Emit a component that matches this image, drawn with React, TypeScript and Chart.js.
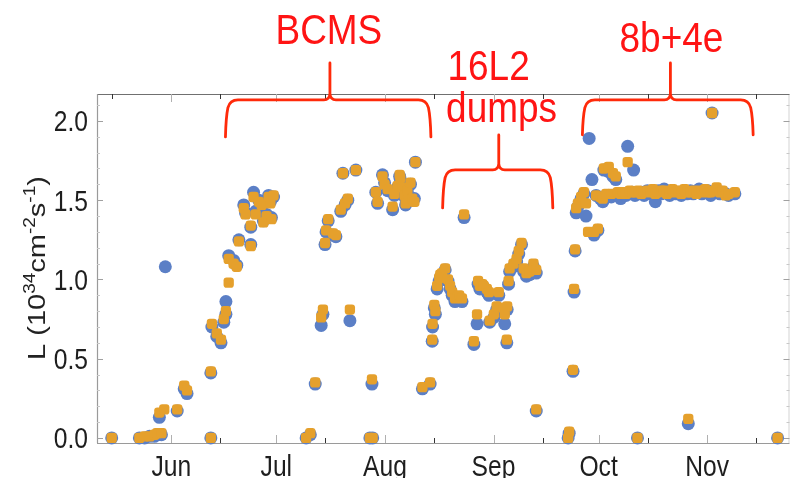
import React, { useEffect, useRef } from "react";
import { Chart, registerables } from "chart.js";

Chart.register(...registerables);

// Fill day (day of year) and peak luminosity, two series (blue, orange)
const fillDays = [
  135.0, 142.9, 144.4, 145.8, 147.2, 148.0, 148.6, 149.2, 150.0, 150.3, 153.7, 155.7, 156.5,
  163.3, 163.3, 163.6, 165.0, 166.2, 167.0, 167.6, 167.6, 168.4, 168.4, 169.8, 170.7, 171.3,
  174.7, 174.7, 172.7, 173.2, 175.5, 176.1, 177.0, 177.8, 178.3, 179.2, 179.8, 180.3, 180.6, 181.2,
  190.5, 191.7, 193.1, 194.8, 195.3, 195.9, 196.2, 196.8, 198.2, 199.0, 200.4, 201.0, 201.6, 202.4,
  203.0, 204.7, 208.7, 209.5, 209.3,
  210.4, 210.9, 212.3, 212.9, 213.8, 215.2, 215.7, 216.6, 217.2, 217.4, 218.0, 218.6, 218.9, 219.4,
  220.3, 220.8, 221.4, 221.7, 223.7, 225.9, 226.5, 226.6, 227.1, 227.4, 227.9, 228.5, 228.8, 229.3, 230.2,
  231.0, 231.6, 232.2, 233.0, 233.6, 234.2, 235.0, 235.6, 238.4, 239.3, 239.6, 240.1, 240.8, 241.2,
  242.1, 242.7, 242.9, 244.1, 244.9, 245.5, 246.9, 247.2, 247.8, 247.9, 248.3, 248.6, 249.7, 250.6,
  251.2, 252.0, 252.6, 253.4, 254.3, 255.4, 256.2, 256.2,
  265.3, 265.6, 266.7, 267.0, 267.3, 267.6, 268.1, 269.0, 269.8, 270.4, 271.0, 271.3, 272.1, 272.7,
  273.3, 273.8, 274.5, 275.2, 275.5, 276.2, 276.9, 277.6, 278.1, 278.9, 279.5, 280.3, 281.0, 281.8,
  282.3, 282.9, 283.6, 284.0, 284.4, 285.1, 285.3, 286.2, 287.0, 287.9, 288.8, 289.5, 290.2, 291.0,
  291.9, 292.7, 293.5, 294.3, 295.1, 296.0, 296.8, 297.6, 298.5, 299.3, 299.6, 300.2, 301.0, 301.9,
  302.7, 303.5, 304.4, 305.2, 306.0, 306.4, 306.9, 307.7, 308.6, 309.4, 310.3, 311.1, 312.9, 325.1,
];

const lumiBlue = [
  0.0, 0.0, 0.0, 0.01, 0.01, 0.02, 0.13, 0.02, null, 1.08, 0.17, 0.31, 0.28,
  0.41, 0.0, 0.7, 0.64, 0.6, 0.73, 0.78, 0.86, null, 1.15, 1.12, 1.09, 1.25,
  1.22, 1.33, 1.47, 1.42, 1.55, 1.43, 1.5, 1.46, 1.37, 1.41, 1.53, 1.49, 1.39, 1.52,
  0.0, 0.02, 0.34, 0.71, 0.78, 1.22, 1.3, 1.37, 1.28, 1.27, 1.43, 1.67, 1.47, 1.5,
  0.74, 1.69, 0.0, 0.0, 0.34,
  1.55, 1.48, 1.66, 1.61, 1.56, 1.44, 1.53, 1.58, 1.65, 1.63, 1.57, 1.52, 1.47, 1.55,
  1.6, 1.5, 1.51, 1.74, 0.31, 0.34, 0.61, 0.7, 0.82, 0.78, 0.94, 0.99, 1.01, 1.02, 1.06,
  0.99, 0.94, 0.9, 0.86, 0.88, 0.88, 0.86, 1.39, 0.59, 0.72, 0.97, 0.94, 0.96, 0.95,
  0.92, 0.9, 0.73, 0.76, 0.81, 0.9, 0.8, 0.72, 0.6, 0.81, 0.97, 1.05, 1.08, 1.11,
  1.16, 1.22, 1.05, 1.02, 1.03, 1.08, 1.04, 0.17,
  0.0, 0.03, 0.42, 0.92, 1.18, 1.42, 1.46, 1.51, 1.54, 1.4, null, 1.89, 1.63, 1.28,
  1.53, 1.31, 1.51, 1.49, 1.69, 1.53, 1.68, 1.52, 1.65, 1.63, 1.53, 1.51, 1.54, 1.53,
  1.84, 1.54, 1.55, 1.69, 1.53, 0.0, 1.54, 1.55, 1.53, 1.56, 1.54, 1.55, 1.49, 1.56,
  1.54, 1.57, 1.55, 1.53, 1.56, 1.54, 1.55, 1.53, 1.55, 1.54, 0.09, 1.56, 1.54, 1.55,
  1.57, 1.54, 1.55, 1.56, 1.53, 2.05, 1.55, 1.56, 1.54, 1.55, 1.54, 1.53, 1.54, 0.0,
];

const lumiOrange = [
  0.0, 0.0, 0.01, 0.01, 0.02, 0.03, 0.16, 0.03, 0.18, null, 0.18, 0.33, 0.3,
  0.42, 0.0, 0.72, 0.66, 0.62, 0.75, 0.8, null, 0.98, 1.13, 1.1, 1.08, 1.24,
  1.21, 1.34, 1.45, 1.41, 1.52, 1.41, 1.49, 1.47, 1.36, 1.4, 1.52, 1.48, 1.38, 1.53,
  0.0, 0.03, 0.35, 0.76, 0.81, 1.23, 1.31, 1.38, 1.29, 1.28, 1.44, 1.67, 1.48, 1.51,
  0.81, 1.69, 0.0, 0.0, 0.37,
  1.55, 1.49, 1.65, 1.6, 1.57, 1.46, 1.54, 1.59, 1.66, 1.64, 1.58, 1.53, 1.48, 1.56,
  1.61, 1.51, 1.49, 1.74, 0.32, 0.35, 0.62, 0.72, 0.84, 0.8, 0.96, 1.01, 1.03, 1.04, 1.07,
  1.0, 0.96, 0.92, 0.88, 0.89, 0.9, 0.88, 1.41, 0.61, 0.78, 0.99, 0.96, 0.97, 0.96,
  0.94, 0.92, 0.74, 0.78, 0.83, 0.92, 0.82, 0.78, 0.62, 0.83, 0.99, 1.07, 1.1, 1.13,
  1.18, 1.23, 1.07, 1.04, 1.05, 1.1, 1.06, 0.18,
  0.0, 0.04, 0.43, 0.94, 1.19, 1.45, 1.48, 1.52, 1.55, 1.48, 1.3, null, null, 1.3,
  1.53, 1.32, 1.52, 1.51, 1.7, 1.54, 1.71, 1.54, 1.67, 1.65, 1.55, 1.54, 1.55, 1.54,
  1.74, 1.56, 1.55, null, 1.55, 0.0, 1.56, 1.54, 1.55, 1.56, 1.55, 1.57, 1.54, 1.55,
  1.56, 1.56, 1.54, 1.55, 1.57, 1.55, 1.56, 1.54, 1.57, 1.55, 0.12, 1.55, 1.56, 1.54,
  1.56, 1.55, 1.57, 1.55, 1.55, 2.05, 1.56, 1.58, 1.55, 1.56, 1.53, 1.54, 1.55, 0.0,
];

// Axis ticks
const monthStartDays = [152, 182, 213, 244, 274, 305];
const monthLabels = ["Jun", "Jul", "Aug", "Sep", "Oct", "Nov"];
const midMonthDays = [135, 166, 196, 227, 258, 288, 319];
const yMajorTicks = [0, 0.5, 1.0, 1.5, 2.0];
const yTickLabels = ["0.0", "0.5", "1.0", "1.5", "2.0"];
const yMinorTicks = [0.1, 0.2, 0.3, 0.4, 0.6, 0.7, 0.8, 0.9, 1.1, 1.2, 1.3, 1.4, 1.6, 1.7, 1.8, 1.9, 2.1];

// Annotation braces (data units)
const braceFrom = [167.9, 229.9, 269.8];
const braceTo = [225.7, 260.5, 317.7];
const braceTip = [197.3, 245.5, 294.5];
const braceLevel = [2.133, 1.691, 2.133];
const braceLegEnd = [1.899, 1.451, 1.912];
const bracePeak = [2.366, 1.912, 2.366];

// Annotation texts (data units, baseline)
const noteTexts = ["BCMS", "16L2", "dumps", "8b+4e"];
const noteDays = [197.0, 242.6, 246.3, 294.8];
const noteLumi = [2.486, 2.26, 1.995, 2.435];

const SANS = '"Liberation Sans", Arial, Helvetica, sans-serif';
const SQUEEZE = 0.85;
const TICK_FONT = `29px ${SANS}`;

function squeezedText(ctx: CanvasRenderingContext2D, text: string, x: number, y: number, k: number) {
  ctx.save();
  ctx.translate(x, y);
  ctx.scale(k, 1);
  ctx.fillText(text, 0, 0);
  ctx.restore();
}

const decorPlugin = {
  id: "decor",
  beforeDatasetsDraw(chart: any) {
    const { ctx, chartArea } = chart;
    const xs = chart.scales.x;
    const ys = chart.scales.y;
    const { left, right, top, bottom } = chartArea;
    ctx.save();
    // frame
    ctx.lineWidth = 1.2;
    ctx.strokeStyle = "#dadada";
    ctx.beginPath();
    ctx.moveTo(right - 0.5, top);
    ctx.lineTo(right - 0.5, bottom);
    ctx.stroke();
    ctx.strokeStyle = "#707070";
    ctx.beginPath();
    ctx.moveTo(left, top + 0.5);
    ctx.lineTo(right, top + 0.5);
    ctx.stroke();
    ctx.strokeStyle = "#9a9a9a";
    ctx.beginPath();
    ctx.moveTo(left + 0.5, top);
    ctx.lineTo(left + 0.5, bottom);
    ctx.moveTo(left, bottom + 0.5);
    ctx.lineTo(right, bottom + 0.5);
    ctx.stroke();
    // x ticks
    ctx.lineWidth = 1;
    monthStartDays.forEach((d) => {
      const px = Math.round(xs.getPixelForValue(d)) + 0.5;
      ctx.strokeStyle = "#b0b0b0";
      ctx.beginPath();
      ctx.moveTo(px, bottom);
      ctx.lineTo(px, bottom - 8);
      ctx.moveTo(px, top);
      ctx.lineTo(px, top + 8);
      ctx.stroke();
    });
    midMonthDays.forEach((d) => {
      const px = Math.round(xs.getPixelForValue(d)) + 0.5;
      if (px < left || px > right) return;
      ctx.strokeStyle = "#333333";
      ctx.beginPath();
      ctx.moveTo(px, bottom);
      ctx.lineTo(px, bottom - 5);
      ctx.moveTo(px, top);
      ctx.lineTo(px, top + 5);
      ctx.stroke();
    });
    // y ticks
    yMajorTicks.forEach((v) => {
      const py = Math.round(ys.getPixelForValue(v)) + 0.5;
      ctx.strokeStyle = "#a0a0a0";
      ctx.beginPath();
      ctx.moveTo(left, py);
      ctx.lineTo(left + 6, py);
      ctx.moveTo(right, py);
      ctx.lineTo(right - 6, py);
      ctx.stroke();
    });
    yMinorTicks.forEach((v) => {
      const py = Math.round(ys.getPixelForValue(v)) + 0.5;
      ctx.strokeStyle = "#c8c8c8";
      ctx.beginPath();
      ctx.moveTo(left, py);
      ctx.lineTo(left + 3, py);
      ctx.moveTo(right, py);
      ctx.lineTo(right - 3, py);
      ctx.stroke();
    });
    // tick labels
    ctx.fillStyle = "#1e1e1e";
    ctx.font = TICK_FONT;
    ctx.textAlign = "center";
    ctx.textBaseline = "alphabetic";
    monthStartDays.forEach((d, i) => {
      squeezedText(ctx, monthLabels[i], xs.getPixelForValue(d), bottom + 33, SQUEEZE);
    });
    ctx.textAlign = "right";
    yMajorTicks.forEach((v, i) => {
      squeezedText(ctx, yTickLabels[i], left - 9, ys.getPixelForValue(v) + 10.5, SQUEEZE);
    });
    ctx.restore();
  },
  afterDraw(chart: any) {
    const { ctx } = chart;
    const xs = chart.scales.x;
    const ys = chart.scales.y;
    ctx.save();
    // braces
    ctx.strokeStyle = "#ff2a0a";
    ctx.lineWidth = 2.8;
    ctx.lineCap = "round";
    ctx.lineJoin = "round";
    braceFrom.forEach((_, i) => {
      const L = xs.getPixelForValue(braceFrom[i]);
      const R = xs.getPixelForValue(braceTo[i]);
      const T = xs.getPixelForValue(braceTip[i]);
      const H = ys.getPixelForValue(braceLevel[i]);
      const B = ys.getPixelForValue(braceLegEnd[i]);
      const P = ys.getPixelForValue(bracePeak[i]);
      const r = 11;
      const r2 = 6;
      ctx.beginPath();
      ctx.moveTo(L - 1.5, B);
      ctx.quadraticCurveTo(L - 1, H + r + 6, L + 1, H + r * 0.7);
      ctx.quadraticCurveTo(L + 3, H, L + r, H);
      ctx.lineTo(T - r2, H);
      ctx.quadraticCurveTo(T - 0.5, H, T, H - r2);
      ctx.lineTo(T, P);
      ctx.moveTo(T, H - r2);
      ctx.quadraticCurveTo(T + 0.5, H, T + r2, H);
      ctx.lineTo(R - r, H);
      ctx.quadraticCurveTo(R - 3, H, R - 1, H + r * 0.7);
      ctx.quadraticCurveTo(R + 1, H + r + 6, R + 1.5, B);
      ctx.stroke();
    });
    // notes
    ctx.fillStyle = "#ff1414";
    ctx.font = `42px ${SANS}`;
    ctx.textAlign = "center";
    ctx.textBaseline = "alphabetic";
    noteTexts.forEach((t, i) => {
      squeezedText(ctx, t, xs.getPixelForValue(noteDays[i]), ys.getPixelForValue(noteLumi[i]), 0.88);
    });
    // y-axis title with superscripts
    const parts: [string, boolean][] = [
      ["L (10", false],
      ["34", true],
      ["cm", false],
      ["-2", true],
      ["s", false],
      ["-1", true],
      [")", false],
    ];
    const bigFont = `29px ${SANS}`;
    const smallFont = `19px ${SANS}`;
    let total = 0;
    parts.forEach(([t, sup]) => {
      ctx.font = sup ? smallFont : bigFont;
      total += ctx.measureText(t).width;
    });
    ctx.translate(45, 268);
    ctx.rotate(-Math.PI / 2);
    ctx.scale(1, SQUEEZE);
    ctx.fillStyle = "#222222";
    ctx.textAlign = "left";
    let x = -total / 2;
    parts.forEach(([t, sup]) => {
      ctx.font = sup ? smallFont : bigFont;
      ctx.fillText(t, x, sup ? -12 : 0);
      x += ctx.measureText(t).width;
    });
    ctx.restore();
  },
};

export default function App() {
  const canvasRef = useRef<HTMLCanvasElement | null>(null);

  useEffect(() => {
    const canvas = canvasRef.current;
    if (!canvas) return;
    const bluePts = fillDays
      .map((d, i) => ({ x: d, y: lumiBlue[i] }))
      .filter((p) => p.y !== null);
    const orangePts = fillDays
      .map((d, i) => ({ x: d, y: lumiOrange[i] }))
      .filter((p) => p.y !== null);

    const chart = new Chart(canvas, {
      type: "scatter",
      data: {
        datasets: [
          {
            label: "orange",
            data: orangePts as any,
            backgroundColor: "#e5a02c",
            borderWidth: 0,
            pointStyle: "rectRounded",
            pointRadius: 6,
            order: 0,
            clip: false as any,
          },
          {
            label: "blue",
            data: bluePts as any,
            backgroundColor: "#5b7fc6",
            borderWidth: 0,
            pointStyle: "circle",
            pointRadius: 6.5,
            order: 1,
            clip: false as any,
          },
        ],
      },
      options: {
        animation: false,
        responsive: false,
        devicePixelRatio: 1,
        layout: { padding: { top: 94, right: 1, left: 0, bottom: 0 } },
        plugins: { legend: { display: false }, tooltip: { enabled: false } },
        scales: {
          x: {
            type: "linear",
            min: 130.8,
            max: 328.5,
            grid: { display: false },
            border: { display: false },
            afterFit: (s: any) => {
              s.height = 35;
            },
            afterBuildTicks: (s: any) => {
              s.ticks = monthStartDays.map((v) => ({ value: v }));
            },
            ticks: { display: false },
          },
          y: {
            type: "linear",
            min: -0.032,
            max: 2.17,
            grid: { display: false },
            border: { display: false },
            afterFit: (s: any) => {
              s.width = 97;
            },
            afterBuildTicks: (s: any) => {
              s.ticks = yMajorTicks.map((v) => ({ value: v }));
            },
            ticks: { display: false },
          },
        },
      },
      plugins: [decorPlugin],
    });
    return () => chart.destroy();
  }, []);

  return (
    <div style={{ position: "fixed", left: 0, top: 0, width: 796, height: 478, background: "#ffffff" }}>
      <canvas ref={canvasRef} width={796} height={478} style={{ width: 796, height: 478, display: "block" }} />
    </div>
  );
}
